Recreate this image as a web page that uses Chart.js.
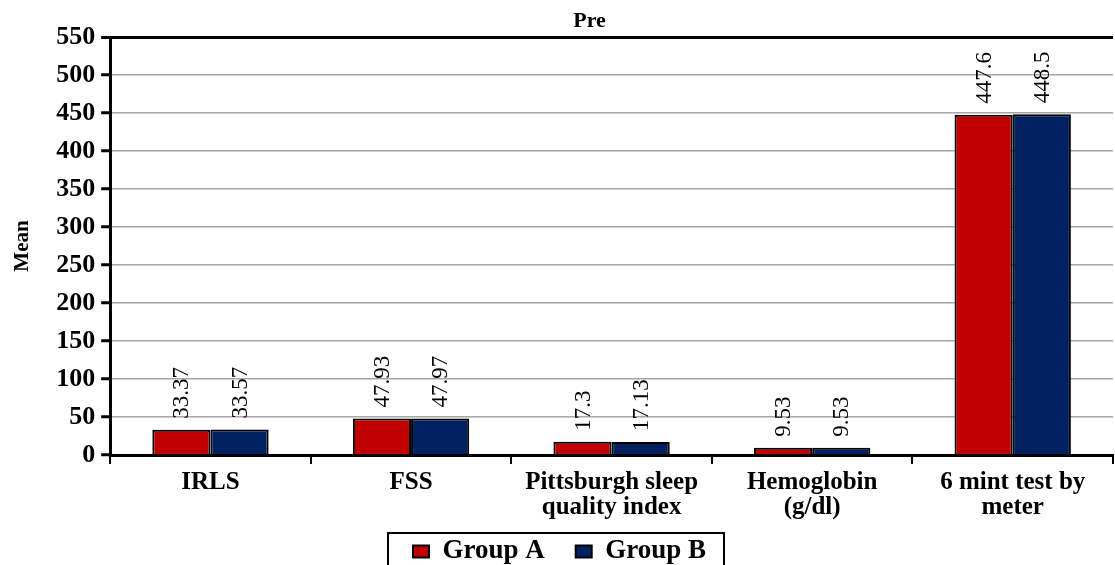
<!DOCTYPE html>
<html><head><meta charset="utf-8">
<script src="https://cdn.jsdelivr.net/npm/chart.js@4.4.0/dist/chart.umd.min.js"></script>
<style>html,body{margin:0;padding:0;background:#fff;}#wrap{width:1115px;height:565px;}</style>
</head><body><div id="wrap"><canvas id="c" width="1115" height="565"></canvas></div>
<script>
const categories = [["IRLS"], ["FSS"], ["Pittsburgh sleep", "quality index"], ["Hemoglobin", "(g/dl)"], ["6 mint test by", "meter"]];
const groupA = [33.37, 47.93, 17.3, 9.53, 447.6];
const groupB = [33.57, 47.97, 17.13, 9.53, 448.5];
const labelsA = ["33.37", "47.93", "17.3", "9.53", "447.6"];
const labelsB = ["33.57", "47.97", "17.13", "9.53", "448.5"];
const yTicks = [0, 50, 100, 150, 200, 250, 300, 350, 400, 450, 500, 550];
const chartTitle = "Pre";

const serif = "'Liberation Serif', 'Times New Roman', serif";

const valueLabels = {
  id: 'valueLabels',
  afterDatasetsDraw(chart) {
    const ctx = chart.ctx;
    const texts = [labelsA, labelsB];
    chart.data.datasets.forEach((ds, di) => {
      const meta = chart.getDatasetMeta(di);
      meta.data.forEach((bar, i) => {
        ctx.save();
        ctx.translate(bar.x, bar.y - 11);
        ctx.rotate(-Math.PI / 2);
        ctx.font = "23px " + serif;
        ctx.fillStyle = '#000';
        ctx.textAlign = 'left';
        ctx.textBaseline = 'middle';
        ctx.fillText(texts[di][i], 0, 1);
        ctx.restore();
      });
    });
  }
};

const titlePlugin = {
  id: 'titleText',
  afterDraw(chart) {
    const a = chart.chartArea;
    const ctx = chart.ctx;
    ctx.save();
    ctx.font = "bold 22px " + serif;
    ctx.fillStyle = '#000';
    ctx.textAlign = 'center';
    ctx.textBaseline = 'middle';
    ctx.fillText(chartTitle, a.left + a.width * 0.478, a.top - 16);
    ctx.restore();
  }
};

const legendBox = {
  id: 'legendBox',
  afterDraw(chart) {
    const lg = chart.legend;
    if (!lg || !lg.legendHitBoxes.length) return;
    const boxes = lg.legendHitBoxes;
    let minX = Infinity, maxX = -Infinity, minY = Infinity;
    boxes.forEach(b => { minX = Math.min(minX, b.left); maxX = Math.max(maxX, b.left + b.width); minY = Math.min(minY, b.top); });
    const ctx = chart.ctx;
    ctx.save();
    ctx.strokeStyle = '#000';
    ctx.lineWidth = 2;
    ctx.strokeRect(minX - 25, minY - 5, (maxX - minX) + 43, 60);
    ctx.restore();
  }
};

new Chart(document.getElementById('c'), {
  type: 'bar',
  data: {
    labels: categories,
    datasets: [
      { label: 'Group A', data: groupA, backgroundColor: '#C00000', borderColor: '#000', borderWidth: 2 },
      { label: 'Group B', data: groupB, backgroundColor: '#002060', borderColor: '#000', borderWidth: 2 }
    ]
  },
  options: {
    responsive: false,
    animation: false,
    devicePixelRatio: 1,
    layout: { padding: { left: 6, right: 2, top: 37, bottom: -10 } },
    datasets: { bar: { categoryPercentage: 0.58, barPercentage: 1.0 } },
    plugins: {
      title: { display: false },
      legend: {
        position: 'bottom',
        labels: {
          color: '#000',
          font: { family: serif, size: 27, weight: 'bold' },
          boxWidth: 16, boxHeight: 12, padding: 12,
          generateLabels(chart) {
            const items = Chart.defaults.plugins.legend.labels.generateLabels(chart);
            items.forEach((it, i) => { if (i < items.length - 1) it.text = it.text + '\u2002\u2009'; });
            return items;
          }
        }
      },
      tooltip: { enabled: false }
    },
    scales: {
      x: {
        grid: { display: true, drawOnChartArea: false, offset: true, color: '#000', lineWidth: 2, tickLength: 9 },
        border: { display: true, color: '#000', width: 3 },
        ticks: { color: '#000', font: { family: serif, size: 25, weight: 'bold', lineHeight: 1.0 }, maxRotation: 0, autoSkip: false, padding: 6 }
      },
      y: {
        min: 0, max: 550,
        afterBuildTicks(axis) { axis.ticks = yTicks.map(v => ({ value: v })); },
        grid: {
          color: ctx => (ctx.tick && ctx.tick.value === 550) ? '#000' : '#A6A6A6',
          lineWidth: ctx => (ctx.tick && ctx.tick.value === 550) ? 3 : 1.5,
          tickColor: '#000', tickLength: 9, tickWidth: 3
        },
        border: { display: true, color: '#000', width: 3 },
        ticks: { color: '#000', font: { family: serif, size: 26, weight: 'bold' }, padding: 6 },
        title: { display: true, text: 'Mean', color: '#000', font: { family: serif, size: 21, weight: 'bold' }, padding: { top: 4, bottom: 15 } }
      }
    }
  },
  plugins: [valueLabels, legendBox, titlePlugin]
});
</script>
</body></html>
